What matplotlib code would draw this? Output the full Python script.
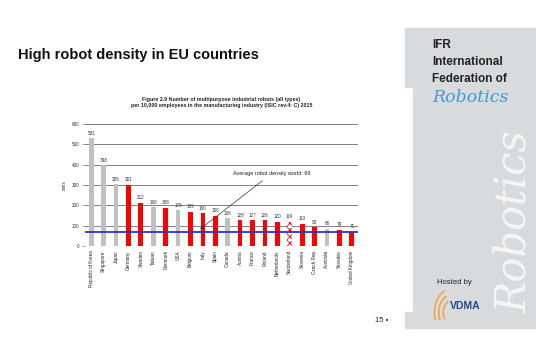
import matplotlib
matplotlib.use("Agg")
import matplotlib.pyplot as plt
from matplotlib.patches import Rectangle, Arc

plt.rcParams['font.family'] = ['Liberation Sans', 'DejaVu Sans']
plt.rcParams['hatch.linewidth'] = 0.6

countries = ['Republic of Korea', 'Singapore', 'Japan', 'Germany', 'Sweden', 'Taiwan',
             'Denmark', 'USA', 'Belgium', 'Italy', 'Spain', 'Canada', 'Austria',
             'France', 'Finland', 'Netherlands', 'Switzerland', 'Slovenia',
             'Czech Rep.', 'Australia', 'Slovakia', 'United Kingdom']
density = [531, 398, 305, 301, 212, 190, 188, 176, 169, 160, 150, 136, 128,
           127, 126, 120, 119, 110, 93, 86, 79, 71]
# 'eu' = red, 'other' = grey, 'ch' = hatched
group = ['other', 'other', 'other', 'eu', 'eu', 'other', 'eu', 'other', 'eu', 'eu',
         'eu', 'other', 'eu', 'eu', 'eu', 'eu', 'ch', 'eu', 'eu', 'other', 'eu', 'eu']
world_avg = 69
yticks = [0, 100, 200, 300, 400, 500, 600]

W, H = 536, 357
fig = plt.figure(figsize=(W / 100, H / 100), dpi=100)

def fx(px):
    return px / W

def fy(py):
    return 1 - py / H

# grey side panel
for x0, y0, x1, y1 in [(413, 28, 536, 328), (405, 28, 413, 87), (405, 312, 413, 328)]:
    fig.patches.append(Rectangle((fx(x0), fy(y1)), fx(x1 - x0), (y1 - y0) / H,
                                 transform=fig.transFigure, color='#d9dadc', zorder=-2))

# watermark
fig.text(fx(514), fy(222), 'Robotics', rotation=90, fontsize=30, style='italic',
         family='DejaVu Serif', color='white', alpha=0.75, ha='center', va='center',
         zorder=-1)

# slide title
fig.text(fx(18), fy(55), 'High robot density in EU countries', fontsize=10.5,
         fontweight='bold', va='center', color='#111111')

# IFR logo
fig.text(fx(432), fy(45), 'IFR', fontsize=8.5, fontweight='bold', va='center', color='#222222')
fig.text(fx(432), fy(62), 'International', fontsize=8.5, fontweight='bold', va='center', color='#222222')
fig.text(fx(432), fy(79), 'Federation of', fontsize=8.5, fontweight='bold', va='center', color='#222222')
fig.text(fx(432), fy(97), 'Robotics', fontsize=12.5, style='italic', family='DejaVu Serif',
         va='center', color='#3b9fd1')

# hosted by VDMA
fig.text(fx(437), fy(283), 'Hosted by', fontsize=5.5, va='center', color='#222222')
fig.text(fx(450), fy(306), 'VDMA', fontsize=7.5, fontweight='bold', va='center', color='#1f4e8c')
lax = fig.add_axes([fx(430), fy(320), fx(22), 30 / H])
lax.set_zorder(5)
lax.set_xlim(0, 1)
lax.set_ylim(0, 1)
lax.axis('off')
for r in [0.4, 0.6, 0.8]:
    lax.add_patch(Arc((1.0, 0.25), r * 2.0, r * 2.0, theta1=115, theta2=215,
                      color='#f0a030', lw=1.0))

# page number
fig.text(fx(388), fy(321), '15 \u2022', fontsize=5.5, ha='right', va='center', color='#222222')

# chart
ax = fig.add_axes([fx(85), fy(246), fx(358 - 85), (246 - 124) / H])
x = range(len(countries))
for i, (v, g) in enumerate(zip(density, group)):
    if g == 'eu':
        ax.bar(i, v, width=0.38, color='#ff0000', zorder=3)
    elif g == 'other':
        ax.bar(i, v, width=0.38, color='#c0c0c0', zorder=3)
    else:
        ax.bar(i, v, width=0.38, facecolor='white', edgecolor='#ff0000', hatch='xxxxx',
               lw=0, zorder=3)
    ax.text(i, v + 12, str(v), ha='center', va='bottom', fontsize=3.3, color='#333333')

for t in yticks:
    ax.axhline(t, color='#808080', lw=0.7, zorder=1)
ax.axhline(world_avg, color='#3333bb', lw=1.3, zorder=4)

ax.set_xlim(-0.5, len(countries) - 0.5)
ax.set_ylim(0, 600)
ax.set_yticks(yticks)
ax.set_yticklabels([str(t) for t in yticks], fontsize=3.3, color='#333333')
ax.set_xticks(list(x))
ax.set_xticklabels(countries, rotation=90, fontsize=3.3, color='#222222')
ax.tick_params(axis='x', length=0, pad=3)
ax.tick_params(axis='y', length=2, width=0.5, color='#808080', pad=2)
for s in ax.spines.values():
    s.set_visible(False)
ax.set_ylabel('units', fontsize=3.3, labelpad=4, color='#333333')

ax.annotate('Average robot density world: 69', xy=(8.6, 75), xytext=(11.4, 355),
            fontsize=4, color='#222222', va='center',
            arrowprops=dict(arrowstyle='-|>', color='#333333', lw=0.5, mutation_scale=4))

ax.set_title('Figure 2.9 Number of multipurpose industrial robots (all types)\n'
             'per 10,000 employees in the manufacturing industry (ISIC rev.4: C) 2015',
             fontsize=3.8, fontweight='bold', color='#222222', pad=12, linespacing=1.3)

fig.savefig('out.png', dpi=100)
